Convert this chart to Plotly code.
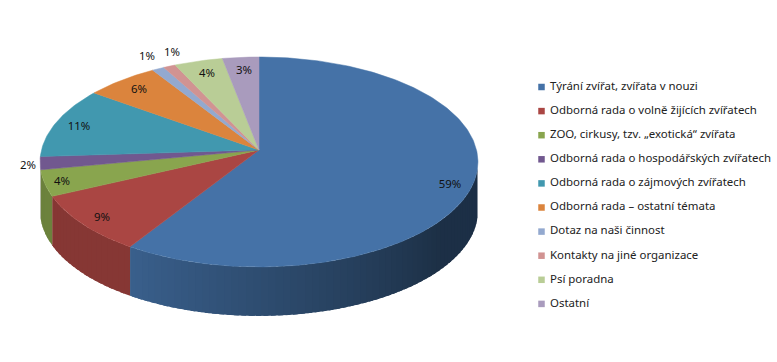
import numpy as np
import plotly.graph_objects as go

categories = ["Týrání zvířat, zvířata v nouzi", "Odborná rada o volně žijících zvířatech",
              "ZOO, cirkusy, tzv. „exotická“ zvířata", "Odborná rada o hospodářských zvířatech",
              "Odborná rada o zájmových zvířatech", "Odborná rada – ostatní témata",
              "Dotaz na naši činnost", "Kontakty na jiné organizace", "Psí poradna", "Ostatní"]
values = [59, 9, 4, 2, 11, 6, 1, 1, 4, 3]
colors = ["#4572A7", "#AA4643", "#89A54E", "#71588F", "#4198AF", "#DB843D",
          "#93A9CF", "#D19392", "#B9CD96", "#A99BBD"]
label_x = [450, 102, 62, 28, 79, 139, 147, 172, 207, 244]
label_y = [185, 218, 182, 166, 127, 90, 57, 53, 74, 71]

CX, CY, A, B, K, DEPTH = 259, 150, 103.6, 217.5, 0.114, 49
FONT = "Noto Sans"


def project(theta, depth=0.0):
    sx, sy = np.sin(theta), np.cos(theta)
    d = 1 + K * sy
    return CX + B * sx / d, CY - A * sy / d + depth


def darken(hex_color, f):
    r, g, b = (int(hex_color[i:i + 2], 16) for i in (1, 3, 5))
    return f"rgb({int(r * f)},{int(g * f)},{int(b * f)})"


fig = go.Figure()
edges = np.radians(np.cumsum([0] + values) * 3.6)
WALL_LO, WALL_HI = np.radians(100), np.radians(259.5)

# side wall, built from the slices that face the viewer
for i, col in enumerate(colors):
    lo, hi = max(edges[i], WALL_LO), min(edges[i + 1], WALL_HI)
    if hi <= lo:
        continue
    n = max(2, int((hi - lo) / 0.03))
    ts = np.linspace(lo, hi, n + 1)
    for j, (t0, t1) in enumerate(zip(ts[:-1], ts[1:])):
        tm = np.degrees((t0 + t1) / 2)
        shade = 0.42 + 0.42 * np.clip((tm - 130) / 82, 0, 1) if i == 0 else 0.79
        t1x = min(t1 + 0.02, hi)
        arc = np.array([t0, t1x])
        xt, yt = project(arc)
        xb, yb = project(arc[::-1], DEPTH)
        c = darken(col, shade)
        fig.add_trace(go.Scatter(x=[*xt, *xb, xt[0]], y=[*yt, *yb, yt[0]], mode="lines",
                                 fill="toself", fillcolor=c, line=dict(color=c, width=0),
                                 hoverinfo="skip", showlegend=False))

# top faces
for i, col in enumerate(colors):
    ts = np.linspace(edges[i], edges[i + 1], max(3, int(values[i] * 4)))
    xs, ys = project(ts)
    fig.add_trace(go.Scatter(x=[CX, *xs, CX], y=[CY, *ys, CY], mode="lines", fill="toself",
                             fillcolor=col, line=dict(color=col, width=0.5),
                             name=categories[i], hoverinfo="skip", showlegend=False))

# percentage labels
fig.add_trace(go.Scatter(x=label_x, y=label_y, mode="text", text=[f"{v}%" for v in values],
                         textposition="middle center", textfont=dict(family=FONT, size=11.4, color="#111111"),
                         hoverinfo="skip", showlegend=False))

# key
rows = [87 + 24.1 * i for i in range(len(categories))]
fig.add_trace(go.Scatter(x=[541.5] * len(categories), y=rows, mode="markers",
                         marker=dict(symbol="square", size=6.5, color=colors), hoverinfo="skip",
                         showlegend=False))
fig.add_trace(go.Scatter(x=[550] * len(categories), y=rows, mode="text", text=categories,
                         textposition="middle right", textfont=dict(family=FONT, size=11.45, color="#222222"),
                         hoverinfo="skip", showlegend=False))

fig.update_layout(width=777, height=362, margin=dict(l=0, r=0, t=0, b=0), autosize=False,
                  paper_bgcolor="white", plot_bgcolor="white", showlegend=False,
                  xaxis=dict(range=[0, 777], visible=False, fixedrange=True),
                  yaxis=dict(range=[362, 0], visible=False, fixedrange=True))
fig.write_html("out.html", config=dict(displayModeBar=False),
               post_script="document.body.style.margin='0';document.body.style.overflow='hidden';")
